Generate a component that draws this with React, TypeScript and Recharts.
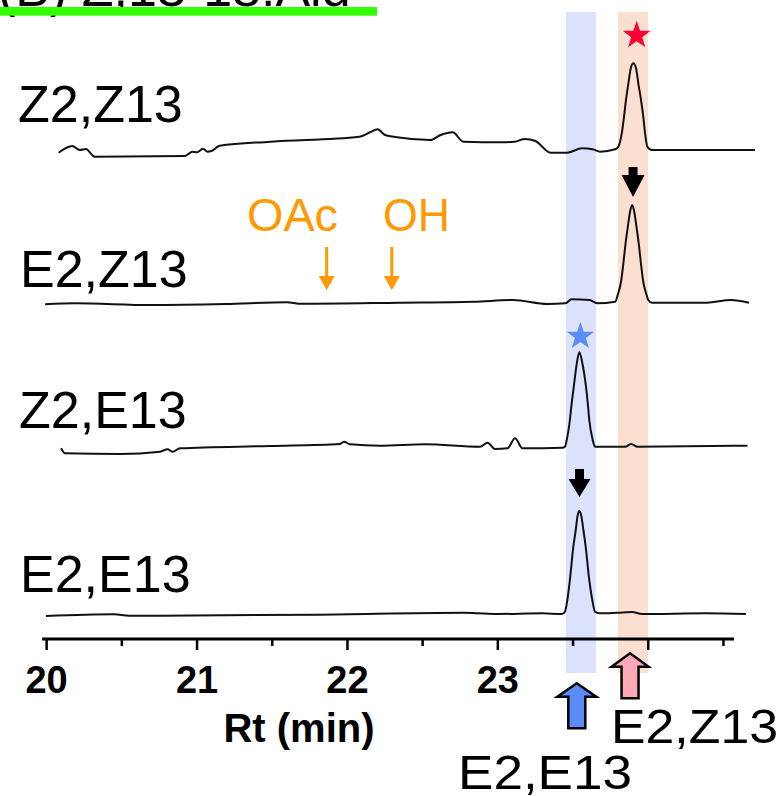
import React from 'react';
import {LineChart, Line, XAxis, YAxis, ReferenceArea, ReferenceLine, ReferenceDot} from 'recharts';

// GC traces: [retention time (min), signal above the trace's own baseline]
const traceNames = ['Z2,Z13', 'E2,Z13', 'Z2,E13', 'E2,E13'];
const traceOffsets = [48.2, 33.4, 18.4, 2.3];

const z2z13: [number, number][] = [
    [20.08, 0.43], [20.17, 1.1], [20.22, 0.7], [20.26, 0.8], [20.32, 0.03], [20.92, 0.1],
    [20.97, 0.53], [21.0, 0.47], [21.04, 0.83], [21.07, 0.53], [21.1, 0.63], [21.15, 1.13],
    [21.49, 1.53], [22.08, 2.03], [22.15, 2.47], [22.2, 2.77], [22.25, 2.2], [22.33, 1.97],
    [22.55, 1.7], [22.62, 2.2], [22.7, 2.47], [22.77, 1.53], [23.02, 1.47], [23.11, 1.53],
    [23.18, 1.8], [23.25, 1.6], [23.35, 0.43], [23.46, 0.43], [23.56, 0.87], [23.63, 0.77],
    [23.68, 0.53], [23.78, 0.77], [23.801, 1.03], [23.824, 2.37], [23.839, 4.03], [23.852, 5.7],
    [23.868, 7.37], [23.884, 8.87], [23.901, 9.37], [23.919, 8.87], [23.934, 7.37], [23.952, 5.7],
    [23.967, 4.03], [23.979, 2.37], [23.994, 1.03], [24.023, 0.7], [24.71, 0.7],
];

const e2z13: [number, number][] = [
    [19.99, 0.07], [20.19, 0.17], [20.69, 0], [21.19, 0.1], [21.6, 0.27], [21.68, 0.13],
    [22.34, 0.23], [22.84, 0.33], [23.1, 0.5], [23.33, 0.1], [23.45, 0.17], [23.49, 0.57],
    [23.61, 0.5], [23.66, 0.17], [23.78, 0.33], [23.797, 1.0], [23.82, 2.4], [23.835, 4.2],
    [23.848, 6.0], [23.864, 7.8], [23.88, 9.4], [23.893, 10.0], [23.906, 9.4], [23.922, 7.8],
    [23.938, 6.0], [23.951, 4.2], [23.966, 2.4], [23.989, 1.0], [24.0, 0.5], [24.025, 0.23],
    [24.39, 0.23], [24.55, 0.5], [24.67, 0.23],
];

const z2e13: [number, number][] = [
    [20.096, 0.67], [20.122, 0.17], [20.488, 0.1], [20.754, 0.33], [20.804, 0.57], [20.837, 0.33],
    [20.887, 0.67], [21.485, 0.9], [21.951, 1.1], [21.977, 1.33], [22.017, 1.07], [22.216, 0.93],
    [22.516, 1.07], [22.881, 0.83], [22.932, 1.23], [22.981, 0.6], [23.065, 0.67], [23.114, 1.67],
    [23.164, 0.67], [23.43, 0.73], [23.446, 0.83], [23.458, 1.5], [23.479, 3.5], [23.491, 5.17],
    [23.505, 6.83], [23.525, 9.17], [23.542, 10.27], [23.562, 9.17], [23.586, 6.83], [23.598, 5.17],
    [23.608, 3.5], [23.631, 1.5], [23.646, 0.83], [23.663, 0.83], [23.846, 0.83], [23.886, 1.1],
    [23.929, 0.83], [24.66, 0.93],
];

const e2e13: [number, number][] = [
    [19.996, 0], [20.448, 0.17], [20.548, 0.03], [21.805, 0.13], [22.769, 0.33], [22.868, 0.27],
    [22.995, 0.2], [23.294, 0.27], [23.427, 0.2], [23.446, 0.43], [23.462, 1.6], [23.479, 3.6],
    [23.502, 6.93], [23.518, 8.6], [23.53, 10.0], [23.542, 10.53], [23.555, 10.0], [23.569, 8.6],
    [23.584, 6.93], [23.608, 3.6], [23.628, 1.6], [23.646, 0.43], [23.676, 0.27], [23.793, 0.33],
    [23.892, 0.4], [23.958, 0.2], [24.384, 0.27], [24.649, 0.2],
];

const traces = [z2z13, e2z13, z2e13, e2e13];

const xTicks = [20, 20.5, 21, 21.5, 22, 22.5, 23, 23.5, 24, 24.5];
const xTickLabels = ['20', '', '21', '', '22', '', '23', '', '', ''];

// shaded retention windows of the two standards
const bandE2E13 = [23.453, 23.652];
const bandE2Z13 = [23.799, 23.999];

const FONT = '"Liberation Sans", Arial, sans-serif';

const starPath = (cx: number, cy: number, R: number, r: number) => {
    let d = '';
    for (let i = 0; i < 10; i++) {
        const rad = i % 2 === 0 ? R : r;
        const a = -Math.PI / 2 + (i * Math.PI) / 5;
        d += `${i === 0 ? 'M' : 'L'}${cx + rad * Math.cos(a)},${cy + rad * Math.sin(a)}`;
    }
    return d + 'Z';
};

// block arrow with its tip at (cx, cy); dir 1 = pointing down, -1 = pointing up
const blockArrow = (cx: number, cy: number, len: number, headH: number, headW: number, shaftW: number, dir: number) => {
    const b = cy - dir * len;
    const h = cy - dir * headH;
    return `M${cx - shaftW / 2},${b}L${cx + shaftW / 2},${b}L${cx + shaftW / 2},${h}L${cx + headW / 2},${h}L${cx},${cy}L${cx - headW / 2},${h}L${cx - shaftW / 2},${h}Z`;
};

const AxisTick = ({x, y, payload}: any) => {
    const idx = xTicks.indexOf(payload.value);
    const major = Number.isInteger(payload.value);
    return (
        <g>
            <line x1={x} x2={x} y1={y} y2={y + (major ? 11 : 7)} stroke="#000" strokeWidth={2.5}/>
            <text x={x} y={y + 54} textAnchor="middle" fontSize={38} fontWeight="bold" fontFamily={FONT} fill="#000">
                {xTickLabels[idx]}
            </text>
        </g>
    );
};

const orangeArrow = (p: any) => (
    <g>
        <line x1={p.cx} x2={p.cx} y1={p.cy - 43} y2={p.cy - 12} stroke="#FF9900" strokeWidth={3}/>
        <path d={`M${p.cx - 8},${p.cy - 14}L${p.cx + 8},${p.cy - 14}L${p.cx},${p.cy}Z`} fill="#FF9900"/>
    </g>
);

export default function App() {
    const series = traces.map((pts, k) => pts.map(([rt, s]) => ({rt, v: s + traceOffsets[k]})));

    return (
        <div style={{position: 'absolute', left: 0, top: 0, width: 781, height: 796, background: '#fff', overflow: 'hidden'}}>
            <LineChart width={781} height={796} margin={{top: 19, right: 12.44, bottom: 97, left: 31.6}}>
                <XAxis
                    type="number"
                    dataKey="rt"
                    domain={[19.9, 24.8]}
                    ticks={xTicks}
                    axisLine={false}
                    tickLine={false}
                    tickSize={0}
                    tickMargin={0}
                    height={60}
                    tick={<AxisTick/>}
                    interval={0}
                />
                <YAxis hide domain={[0, 62]} type="number"/>
                <ReferenceArea x1={bandE2E13[0]} x2={bandE2E13[1]} y1={-3.4} y2={62.7} fill="#DCE2FB" fillOpacity={1} stroke="none" ifOverflow="visible"/>
                <ReferenceArea x1={bandE2Z13[0]} x2={bandE2Z13[1]} y1={-3.4} y2={62.7} fill="#FBE0D2" fillOpacity={1} stroke="none" ifOverflow="visible"/>
                <ReferenceLine segment={[{x: 19.97, y: 0}, {x: 24.57, y: 0}]} stroke="#000" strokeWidth={3}/>
                {series.map((d, k) => (
                    <Line
                        key={traceNames[k]}
                        data={d}
                        dataKey="v"
                        name={traceNames[k]}
                        type="monotone"
                        stroke="#111"
                        strokeWidth={2}
                        dot={false}
                        isAnimationActive={false}
                    />
                ))}
                <ReferenceDot x={23.923} y={60.36} r={0} ifOverflow="visible"
                              shape={(p: any) => <path d={starPath(p.cx, p.cy, 14.7, 5.8)} fill="#FF0033"/>}/>
                <ReferenceDot x={23.549} y={30.27} r={0} ifOverflow="visible"
                              shape={(p: any) => <path d={starPath(p.cx, p.cy, 14.5, 5.7)} fill="#5B8CF5"/>}/>
                <ReferenceDot x={23.899} y={44.2} r={0} ifOverflow="visible"
                              shape={(p: any) => <path d={blockArrow(p.cx, p.cy, 30, 22, 23, 9, 1)} fill="#000"/>}/>
                <ReferenceDot x={23.543} y={14.2} r={0} ifOverflow="visible"
                              shape={(p: any) => <path d={blockArrow(p.cx, p.cy, 28, 18, 22, 9, 1)} fill="#000"/>}/>
                <ReferenceDot x={21.862} y={34.9} r={0} ifOverflow="visible" shape={orangeArrow}/>
                <ReferenceDot x={22.295} y={34.9} r={0} ifOverflow="visible" shape={orangeArrow}/>
                <ReferenceDot x={23.879} y={-1.43} r={0} ifOverflow="visible"
                              shape={(p: any) => <path d={blockArrow(p.cx, p.cy, 45, 13.5, 37, 17, -1)} fill="#FFA8B8" stroke="#000" strokeWidth={2.5} strokeLinejoin="miter"/>}/>
                <ReferenceDot x={23.525} y={-4.43} r={0} ifOverflow="visible"
                              shape={(p: any) => <path d={blockArrow(p.cx, p.cy, 45, 13.5, 39, 17, -1)} fill="#5B8CF5" stroke="#000" strokeWidth={2.5} strokeLinejoin="miter"/>}/>
            </LineChart>
            <svg width={781} height={796} style={{position: 'absolute', left: 0, top: 0, pointerEvents: 'none'}} fontFamily={FONT}>
                <text x={-2} y={6} fontSize={52} fill="#000">(B) Z,13-18:Ald</text>
                <rect x={0} y={7} width={377} height={8.7} fill="#33FF00"/>
                <text x={18} y={122} fontSize={52} fill="#000">Z2,Z13</text>
                <text x={20} y={287} fontSize={52} fill="#000">E2,Z13</text>
                <text x={19} y={428} fontSize={52} fill="#000">Z2,E13</text>
                <text x={20} y={592} fontSize={52} fill="#000">E2,E13</text>
                <text x={247} y={231} fontSize={46} fill="#FF9900" textLength={91} lengthAdjust="spacingAndGlyphs">OAc</text>
                <text x={383} y={231} fontSize={46} fill="#FF9900" textLength={67} lengthAdjust="spacingAndGlyphs">OH</text>
                <text x={299} y={742} fontSize={40} fontWeight="bold" textAnchor="middle" fill="#000">Rt (min)</text>
                <text x={611} y={743} fontSize={48} fill="#000" textLength={167} lengthAdjust="spacingAndGlyphs">E2,Z13</text>
                <text x={458} y={789} fontSize={48} fill="#000" textLength={174} lengthAdjust="spacingAndGlyphs">E2,E13</text>
            </svg>
        </div>
    );
}
